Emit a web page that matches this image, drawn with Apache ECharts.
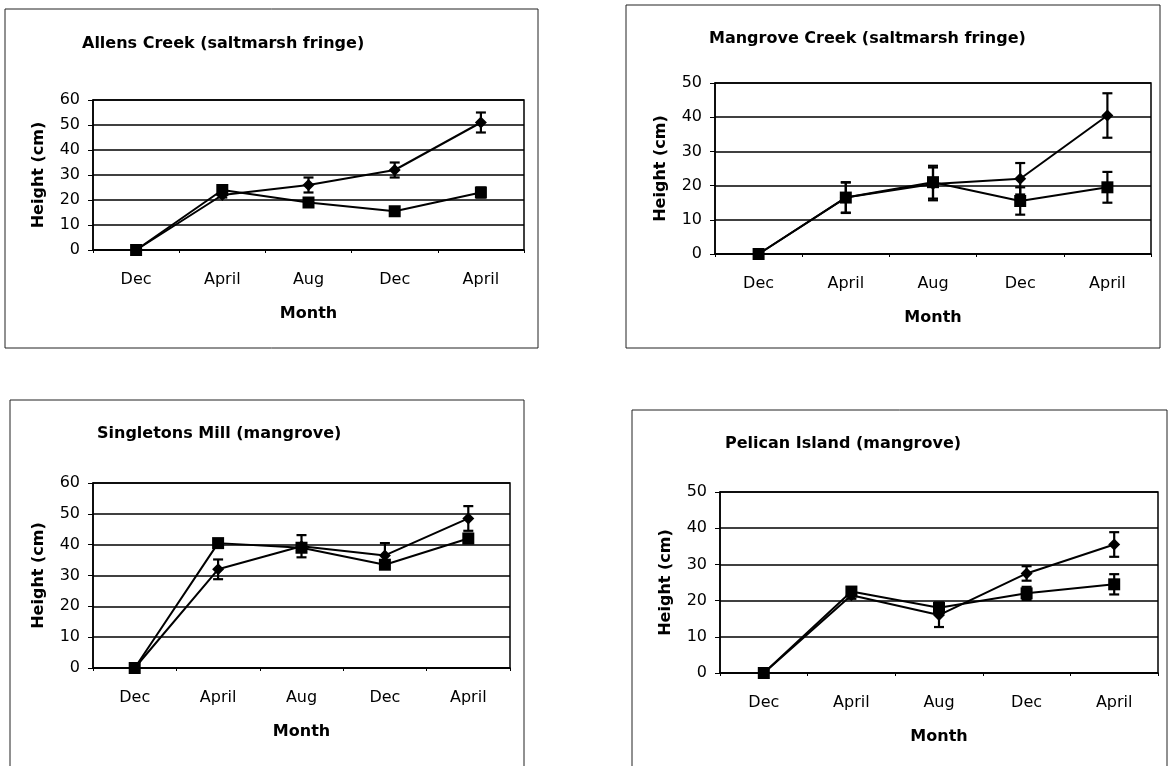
<!DOCTYPE html>
<html>
<head>
<meta charset="utf-8">
<script src="https://cdn.jsdelivr.net/npm/echarts@6/dist/echarts.min.js"></script>
<style>
  html, body { margin: 0; padding: 0; background: #fff; }
  #chart { width: 1171px; height: 766px; }
</style>
</head>
<body>
<div id="chart"></div>
<script>
// month labels shared by all four sites
var months = ['Dec', 'April', 'Aug', 'Dec', 'April'];

// Allens Creek (saltmarsh fringe)
var allensDiamond = [0, 22, 26, 32, 51];
var allensDiamondErr = [0, 1, 3, 3, 4];
var allensSquare = [0, 24, 19, 15.5, 23];
var allensSquareErr = [0, 1, 1, 1.5, 2];

// Mangrove Creek (saltmarsh fringe)
var mangroveDiamond = [0, 16.5, 20.5, 22, 40.5];
var mangroveDiamondErr = [0, 4.5, 4.8, 4.6, 6.5];
var mangroveSquare = [0, 16.5, 21, 15.5, 19.5];
var mangroveSquareErr = [0, 4.4, 4.8, 4, 4.5];

// Singletons Mill (mangrove)
var singletonsDiamond = [0, 32, 39.5, 36.5, 48.5];
var singletonsDiamondErr = [0, 3.2, 3.6, 4, 4];
var singletonsSquare = [0, 40.5, 39, 33.5, 42];
var singletonsSquareErr = [0, 1, 1, 1, 1.5];

// Pelican Island (mangrove)
var pelicanDiamond = [0, 21.5, 16, 27.5, 35.5];
var pelicanDiamondErr = [0, 1, 3.3, 2, 3.4];
var pelicanSquare = [0, 22.5, 18, 22, 24.5];
var pelicanSquareErr = [0, 1, 1.5, 1.8, 2.8];

var yMax = [60, 50, 60, 50];

var panels = [
  { title: 'Allens Creek (saltmarsh fringe)', diamond: allensDiamond, dErr: allensDiamondErr, square: allensSquare, sErr: allensSquareErr,
    box: [5, 9, 533, 339], grid: { left: 93, top: 100, width: 431, height: 150 }, titlePos: [77, 31], titleSize: 16 },
  { title: 'Mangrove Creek (saltmarsh fringe)', diamond: mangroveDiamond, dErr: mangroveDiamondErr, square: mangroveSquare, sErr: mangroveSquareErr,
    box: [626, 5, 534, 343], grid: { left: 715, top: 83, width: 436, height: 171 }, titlePos: [704, 26], titleSize: 16 },
  { title: 'Singletons Mill (mangrove)', diamond: singletonsDiamond, dErr: singletonsDiamondErr, square: singletonsSquare, sErr: singletonsSquareErr,
    box: [10, 400, 514, 370], grid: { left: 93, top: 483, width: 417, height: 185 }, titlePos: [92, 421], titleSize: 16 },
  { title: 'Pelican Island (mangrove)', diamond: pelicanDiamond, dErr: pelicanDiamondErr, square: pelicanSquare, sErr: pelicanSquareErr,
    box: [632, 410, 535, 360], grid: { left: 720, top: 492, width: 438, height: 181 }, titlePos: [720, 431], titleSize: 16 }
];

var FONT = '"DejaVu Sans", Verdana, sans-serif';

function errorBars(params, api) {
  var x = api.value(0);
  var lo = api.coord([x, api.value(1)]);
  var hi = api.coord([x, api.value(2)]);
  var w = 5;
  var style = { stroke: '#000', lineWidth: 2.2 };
  return {
    type: 'group',
    children: [
      { type: 'line', shape: { x1: hi[0], y1: hi[1], x2: lo[0], y2: lo[1] }, style: style },
      { type: 'line', shape: { x1: hi[0] - w, y1: hi[1], x2: hi[0] + w, y2: hi[1] }, style: style },
      { type: 'line', shape: { x1: lo[0] - w, y1: lo[1], x2: lo[0] + w, y2: lo[1] }, style: style }
    ]
  };
}

function errData(vals, errs) {
  var out = [];
  for (var i = 0; i < vals.length; i++) {
    if (errs[i] > 0) out.push([i, vals[i] - errs[i], vals[i] + errs[i]]);
  }
  return out;
}

var titles = [], grids = [], xAxes = [], yAxes = [], series = [], graphics = [];

panels.forEach(function (p, i) {
  graphics.push({
    type: 'rect', silent: true, z: -1,
    shape: { x: p.box[0], y: p.box[1], width: p.box[2], height: p.box[3] },
    style: { fill: 'none', stroke: '#222', lineWidth: 1 }
  });
  titles.push({
    text: p.title, left: p.titlePos[0], top: p.titlePos[1],
    textStyle: { fontFamily: FONT, fontSize: p.titleSize, fontWeight: 'bold', color: '#000' }
  });
  grids.push({
    left: p.grid.left, top: p.grid.top, width: p.grid.width, height: p.grid.height,
    show: true, borderColor: '#000', borderWidth: 1.5, backgroundColor: 'transparent'
  });
  xAxes.push({
    type: 'category', gridIndex: i, data: months, boundaryGap: true,
    name: 'Month', nameLocation: 'middle', nameGap: 56,
    nameTextStyle: { fontFamily: FONT, fontSize: 16, fontWeight: 'bold', color: '#000' },
    axisLine: { lineStyle: { color: '#000', width: 1.5 } },
    axisTick: { show: true, length: 3, lineStyle: { color: '#000' } },
    axisLabel: { fontFamily: FONT, fontSize: 16, color: '#000', margin: 22 },
    splitLine: { show: false }
  });
  yAxes.push({
    type: 'value', gridIndex: i, min: 0, max: yMax[i], interval: 10,
    name: 'Height (cm)', nameLocation: 'middle', nameGap: 46,
    nameTextStyle: { fontFamily: FONT, fontSize: 16, fontWeight: 'bold', color: '#000' },
    axisLine: { show: true, lineStyle: { color: '#000', width: 1.5 } },
    axisTick: { show: true, inside: false, length: 5, lineStyle: { color: '#000' } },
    axisLabel: { fontFamily: FONT, fontSize: 16, color: '#000', margin: 13 },
    splitLine: { show: true, lineStyle: { color: '#000', width: 1.5 } }
  });
  series.push({
    type: 'line', xAxisIndex: i, yAxisIndex: i, data: p.diamond,
    symbol: 'diamond', symbolSize: 12, z: 3,
    lineStyle: { color: '#000', width: 2 }, itemStyle: { color: '#000' }
  });
  series.push({
    type: 'line', xAxisIndex: i, yAxisIndex: i, data: p.square,
    symbol: 'rect', symbolSize: 12, z: 3,
    lineStyle: { color: '#000', width: 2 }, itemStyle: { color: '#000' }
  });
  series.push({
    type: 'custom', xAxisIndex: i, yAxisIndex: i, renderItem: errorBars, z: 4,
    data: errData(p.diamond, p.dErr)
  });
  series.push({
    type: 'custom', xAxisIndex: i, yAxisIndex: i, renderItem: errorBars, z: 4,
    data: errData(p.square, p.sErr)
  });
});

var chart = echarts.init(document.getElementById('chart'));
chart.setOption({
  animation: false,
  backgroundColor: '#fff',
  title: titles,
  grid: grids,
  xAxis: xAxes,
  yAxis: yAxes,
  series: series,
  graphic: graphics
});
</script>
</body>
</html>
